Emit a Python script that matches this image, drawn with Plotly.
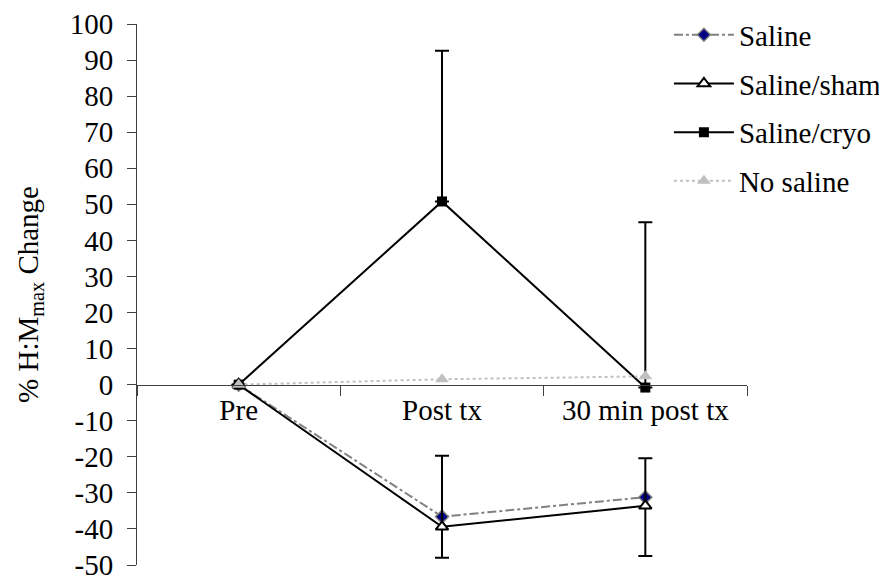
import plotly.graph_objects as go

categories = ["Pre", "Post tx", "30 min post tx"]

saline = [0, -36.6, -31.2]
saline_sham = [0, -39.4, -33.6]
saline_cryo = [0, 50.8, -0.8]
no_saline = [0, 1.5, 2.3]

sham_err_plus = [0, 19.7, 13.2]
sham_err_minus = [0, 8.6, 13.9]
cryo_err_plus = [0, 41.8, 45.8]
cryo_err_minus = [0, 0, 0]

y_tickvals = list(range(-50, 101, 10))
y_ticktext = [str(v) if v >= 0 else "-" + str(-v) for v in y_tickvals]

FONT = "Liberation Serif, Times New Roman, serif"
FS = 29

fig = go.Figure()

fig.add_trace(go.Scatter(
    x=categories, y=saline, name="Saline", mode="lines+markers",
    line=dict(color="#808080", width=2, dash="dashdot"),
    marker=dict(symbol="diamond", size=10, color="#000080",
                line=dict(color="#808080", width=1.5)),
    legendgroup="a",
))
fig.add_trace(go.Scatter(
    x=categories, y=saline_sham, name="Saline/sham", mode="lines+markers",
    line=dict(color="black", width=2),
    marker=dict(symbol="triangle-up", size=11, color="white",
                line=dict(color="black", width=2)),
    error_y=dict(type="data", symmetric=False, array=sham_err_plus,
                 arrayminus=sham_err_minus, color="black", thickness=2, width=7),
    legendgroup="b",
))
fig.add_trace(go.Scatter(
    x=categories, y=saline_cryo, name="Saline/cryo", mode="lines+markers",
    line=dict(color="black", width=2),
    marker=dict(symbol="square", size=10, color="black"),
    error_y=dict(type="data", symmetric=False, array=cryo_err_plus,
                 arrayminus=cryo_err_minus, color="black", thickness=2, width=7),
    legendgroup="c",
))
fig.add_trace(go.Scatter(
    x=categories, y=no_saline, name="No saline", mode="lines+markers",
    line=dict(color="#c0c0c0", width=2, dash="dot"),
    marker=dict(symbol="triangle-up", size=12, color="#c0c0c0"),
    legendgroup="d",
))

fig.update_layout(
    width=879, height=571,
    margin=dict(l=129, r=140, t=16, b=14, autoexpand=False),
    paper_bgcolor="white", plot_bgcolor="white",
    font=dict(family=FONT, size=FS, color="black"),
    showlegend=True,
    legend=dict(x=0.872, y=1.027, xanchor="left", yanchor="top",
                bgcolor="rgba(0,0,0,0)", font=dict(family=FONT, size=FS),
                itemwidth=60, tracegroupgap=8, traceorder="grouped"),
    xaxis=dict(
        type="category", range=[-0.5, 2.5], anchor="free", position=1/3,
        showline=True, linecolor="#404040", linewidth=1,
        ticks="outside", ticklen=10, tickcolor="#404040", tickson="boundaries",
        showgrid=False, zeroline=False, automargin=False,
        tickfont=dict(family=FONT, size=FS),
    ),
    yaxis=dict(
        range=[-50, 100], tickmode="array", tickvals=y_tickvals, ticktext=y_ticktext,
        showline=True, linecolor="#404040", linewidth=1,
        ticks="outside", ticklen=9, tickcolor="#404040",
        showgrid=False, zeroline=False, automargin=False,
        ticklabeloverflow="allow", ticklabelstandoff=8,
        tickfont=dict(family=FONT, size=FS),
        title=dict(text="% H:M<sub>max</sub> Change", font=dict(family=FONT, size=FS), standoff=22),
    ),
)

fig.write_html("out.html")
